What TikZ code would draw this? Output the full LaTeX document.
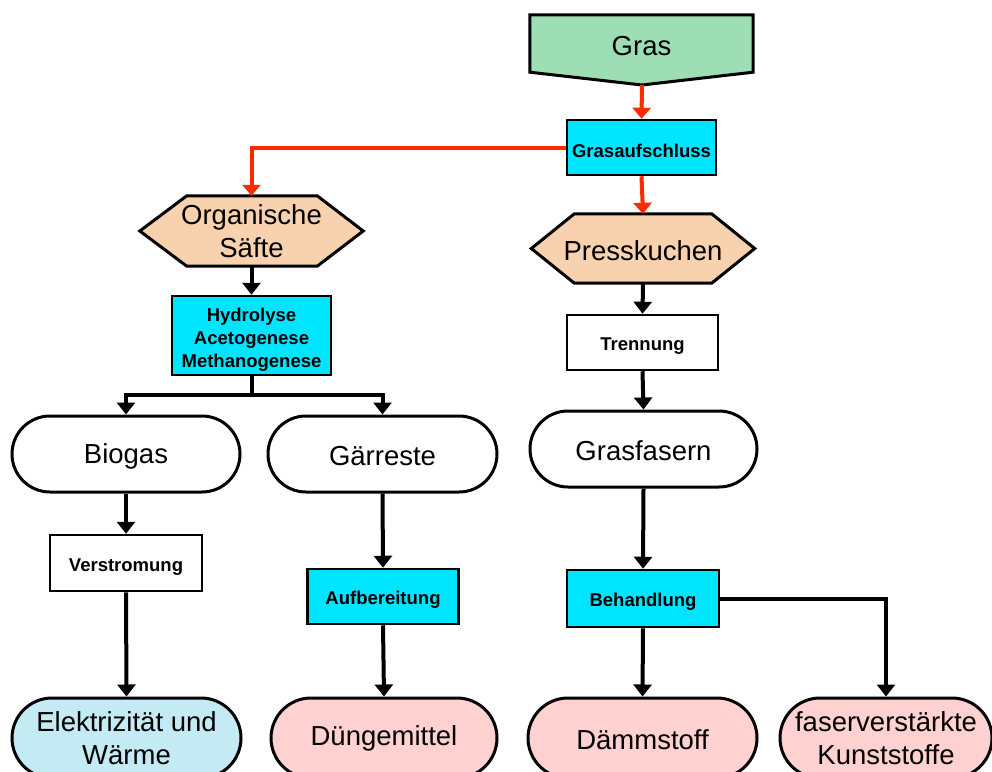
\documentclass[tikz,border=0pt]{standalone}
\usepackage{fontspec}
\setmainfont{Liberation Sans}
\usetikzlibrary{arrows.meta,backgrounds,calc}
\definecolor{grasgreen}{HTML}{9EDEB4}
\definecolor{proccyan}{HTML}{00E5FF}
\definecolor{peach}{HTML}{F8D2AE}
\definecolor{lightblue}{HTML}{C4EAF3}
\definecolor{pinkish}{HTML}{FFD1D1}
\definecolor{flowred}{HTML}{FF2A00}

\begin{document}
\begin{tikzpicture}[x=1pt,y=-1pt,
  bigtext/.style={font=\fontsize{27.5}{33}\selectfont, align=center},
  % struts on the first line lower the labels a little inside their boxes
  bigstrut/.style={execute at begin node={\rule{0pt}{24pt}}},
  proc/.style={draw, line width=2.5pt, minimum width=150pt, minimum height=55pt,
    inner sep=0pt, font=\bfseries\fontsize{18.5}{22.5}\selectfont, align=center,
    execute at begin node={\rule{0pt}{20.5pt}}},
  term/.style={draw, line width=3pt, rounded corners=38pt, minimum width=228pt,
    minimum height=76pt, inner sep=0pt, bigtext},
  endterm/.style={term, rounded corners=40pt, minimum height=80pt},
  plain/.style={bigtext, minimum width=223pt, minimum height=70pt, inner sep=0pt},
  outline/.style={draw, line width=3pt, line join=miter},
  arr/.style={line width=4pt, -{Triangle[width=18pt,length=12pt]}},
  redarr/.style={line width=4pt, draw=flowred, -{Triangle[width=18pt,length=11pt]}, color=flowred},
  blackline/.style={line width=4pt}
]
\useasboundingbox (0,0) rectangle (992,771);

% --- nodes ---
\node[plain, bigstrut, minimum height=57pt] (gras) at (641.5,43.5) {Gras};
\coordinate (graspt) at (642,85);
\node[proc, fill=proccyan, minimum width=149pt] (aufschluss) at (641.5,147.5) {Grasaufschluss};

\node[plain] (org) at (251.5,231) {Organische\\Säfte};
\node[plain, bigstrut, minimum width=223pt, minimum height=69pt] (press) at (643,248.5) {Presskuchen};

\node[proc, fill=proccyan, minimum width=159pt, minimum height=79pt,
  font=\bfseries\fontsize{18.5}{23}\selectfont] (hyd) at (251.5,335.5)
  {\rule{0pt}{21pt}Hydrolyse\\Acetogenese\\Methanogenese};
\node[proc, fill=white, minimum width=151pt] (trenn) at (642.5,342.5) {Trennung};

\coordinate (split) at (251.5,395);
\node[term, bigstrut, fill=white] (biogas) at (126,454) {Biogas};
\node[term, bigstrut, fill=white, minimum width=229pt] (gaer) at (382.5,454) {Gärreste};
\node[term, bigstrut, fill=white, minimum width=227pt] (fasern) at (643.5,449) {Grasfasern};

\node[proc, fill=white, minimum width=152pt, minimum height=56pt] (verstr) at (126,563) {Verstromung};
\node[proc, fill=proccyan, minimum width=151pt] (aufber) at (383,596.5) {Aufbereitung};
\node[proc, fill=proccyan, minimum width=152pt, minimum height=57pt] (behand) at (643,598.5) {Behandlung};

\node[endterm, fill=lightblue, minimum width=229pt] (elek) at (126.5,738) {Elektrizität und\\Wärme};
\node[endterm, fill=pinkish, minimum width=226pt] (dueng) at (384,738) {Düngemittel};
\node[endterm, bigstrut, fill=pinkish, minimum width=229pt] (daemm) at (642.5,738) {Dämmstoff};
\node[endterm, fill=pinkish, minimum width=212pt] (faser) at (886,738) {faserverstärkte\\Kunststoffe};

% --- outlines of the pentagon and hexagons, behind their labels ---
\begin{scope}[on background layer]
  \filldraw[outline, fill=grasgreen] (gras.north west) -- (gras.north east)
    -- (gras.south east) -- (graspt) -- (gras.south west) -- cycle;
  \filldraw[outline, fill=peach] (org.west) -- ($(org.north west)+(47,0)$)
    -- ($(org.north east)+(-46,0)$) -- (org.east) -- ($(org.south east)+(-46,0)$)
    -- ($(org.south west)+(47,0)$) -- cycle;
  \filldraw[outline, fill=peach] (press.west) -- ($(press.north west)+(43,0)$)
    -- ($(press.north east)+(-43,0)$) -- (press.east) -- ($(press.south east)+(-43,0)$)
    -- ($(press.south west)+(43,0)$) -- cycle;
\end{scope}

% --- connectors ---
\draw[redarr] (graspt) -- (aufschluss.north);
\draw[redarr] (aufschluss.west) -| (org.north);
\draw[redarr] (aufschluss.south) -- (press.north);

\draw[arr] (org.south) -- (hyd.north);
\draw[blackline] (hyd.south) -- (split);
\draw[arr] (split) -| (biogas.north);
\draw[arr] (split) -| (gaer.north);

\draw[arr] (press.south) -- (trenn.north);
\draw[arr] (trenn.south) -- (fasern.north);

\draw[arr] (biogas.south) -- (verstr.north);
\draw[arr] (verstr.south) -- (elek.north);
\draw[arr] (gaer.south) -- (aufber.north);
\draw[arr] (aufber.south) -- (dueng.north);
\draw[arr] (fasern.south) -- (behand.north);
\draw[arr] (behand.south) -- (daemm.north);
\draw[arr] (behand.east) -| (faser.north);
\end{tikzpicture}
\end{document}
